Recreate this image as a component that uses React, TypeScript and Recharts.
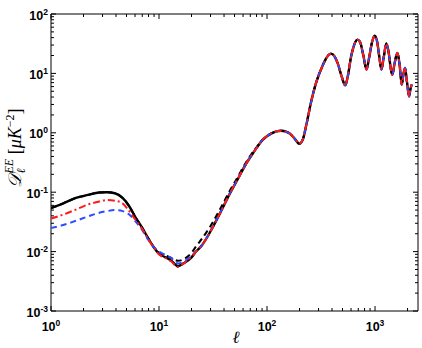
import { LineChart, Line, XAxis, YAxis, ReferenceArea } from 'recharts'

// low multipoles, where the curves differ
const ELL_LOW = [1, 1.3, 1.7, 2.2, 2.8, 3.3, 3.9, 4.6, 5.3, 6, 7, 8, 9, 10, 11.5, 13, 15, 17, 20]
const BLACK_LOW = [0.054, 0.065, 0.08, 0.09, 0.099, 0.1, 0.096, 0.08, 0.058, 0.039, 0.025, 0.0164, 0.0116, 0.0092, 0.008, 0.007, 0.0057, 0.0064, 0.008]
const DASH_LOW = [0.054, 0.065, 0.08, 0.09, 0.099, 0.1, 0.096, 0.08, 0.058, 0.039, 0.025, 0.0164, 0.0118, 0.0096, 0.0086, 0.0078, 0.007, 0.0075, 0.0095]
const RED_LOW = [0.036, 0.042, 0.051, 0.062, 0.07, 0.074, 0.072, 0.065, 0.048, 0.035, 0.024, 0.016, 0.0115, 0.009, 0.0078, 0.0068, 0.0055, 0.0064, 0.0082]
const BLUE_LOW = [0.025, 0.028, 0.033, 0.039, 0.045, 0.048, 0.05, 0.048, 0.042, 0.033, 0.023, 0.0155, 0.0118, 0.01, 0.0088, 0.0078, 0.0063, 0.0068, 0.0085]

// shared part (acoustic peaks)
const ELL_HIGH = [22, 25, 30, 38, 45, 54, 64, 77, 91, 110, 135, 160, 180, 199, 215, 230, 255, 285, 327, 360, 391, 420, 450, 490, 530, 560, 600, 640, 689, 730, 780, 833, 880, 940, 996, 1050, 1100, 1146, 1200, 1274, 1340, 1400, 1446, 1520, 1610, 1690, 1767, 1830, 1896, 1980, 2065, 2130, 2186]
const D_HIGH = [0.01, 0.0128, 0.022, 0.05, 0.093, 0.17, 0.3, 0.5, 0.76, 0.98, 1.08, 0.99, 0.8, 0.655, 0.78, 1.3, 3.2, 7, 13.5, 19, 21.5, 19.5, 15, 9, 6.3, 9, 19, 30, 37, 33, 20, 11.6, 18, 34, 43, 33, 18, 11.6, 18, 31.8, 22, 12, 9.5, 15, 22, 14, 6.5, 9.5, 12.4, 7, 4.1, 5.5, 6.5]
// black dashed runs a bit higher on the rise
const DASH_MID = [0.0122, 0.0165, 0.027, 0.058, 0.104, 0.185, 0.32, 0.52]

const X_TICKS = [1, 2, 3, 4, 5, 6, 7, 8, 9, 10, 20, 30, 40, 50, 60, 70, 80, 90, 100, 200, 300, 400, 500, 600, 700, 800, 900, 1000, 2000]
const Y_TICKS = [0.001, 0.002, 0.003, 0.004, 0.005, 0.006, 0.007, 0.008, 0.009, 0.01, 0.02, 0.03, 0.04, 0.05, 0.06, 0.07, 0.08, 0.09, 0.1, 0.2, 0.3, 0.4, 0.5, 0.6, 0.7, 0.8, 0.9, 1, 2, 3, 4, 5, 6, 7, 8, 9, 10, 20, 30, 40, 50, 60, 70, 80, 90, 100]

const LEFT = 51
const RIGHT = 418
const TOP = 14
const BOTTOM = 311

const build = (low: number[], high: number[]) =>
  [...ELL_LOW, ...ELL_HIGH].map((l, i) => ({ l, d: i < low.length ? low[i] : high[i - low.length] }))

const blackData = build(BLACK_LOW, D_HIGH)
const dashData = build(DASH_LOW, [...DASH_MID, ...D_HIGH.slice(DASH_MID.length)])
const redData = build(RED_LOW, D_HIGH)
const blueData = build(BLUE_LOW, D_HIGH)

const exp = (v: number) => Math.round(Math.log10(v))
const isMajor = (v: number) => Math.abs(Math.log10(v) - exp(v)) < 1e-6

const labelFont = { fontFamily: '"Liberation Sans", Arial, sans-serif', fontWeight: 700 }

function XTick(props: any) {
  const { x, payload } = props
  const major = isMajor(payload.value)
  const len = major ? 5 : 3
  return (
    <g>
      <line x1={x} y1={BOTTOM} x2={x} y2={BOTTOM - len} stroke="#000" />
      <line x1={x} y1={TOP} x2={x} y2={TOP + len} stroke="#000" />
      {major && (
        <text x={x} y={331} textAnchor="middle" fontSize={12.5} fill="#000" {...labelFont}>
          <tspan>10</tspan>
          <tspan dy={-5} fontSize={8.5}>{exp(payload.value)}</tspan>
        </text>
      )}
    </g>
  )
}

function YTick(props: any) {
  const { y, payload } = props
  const major = isMajor(payload.value)
  const len = major ? 5 : 3
  return (
    <g>
      <line x1={LEFT} y1={y} x2={LEFT + len} y2={y} stroke="#000" />
      <line x1={RIGHT} y1={y} x2={RIGHT - len} y2={y} stroke="#000" />
      {major && (
        <text x={48} y={y + 5.5} textAnchor="end" fontSize={12.5} fill="#000" {...labelFont}>
          <tspan>10</tspan>
          <tspan dy={-5} fontSize={8.5}>{exp(payload.value)}</tspan>
        </text>
      )}
    </g>
  )
}

export default function App() {
  return (
    <div style={{ width: 422, height: 348, background: '#fff', position: 'relative' }}>
      <style>{'body{margin:0}'}</style>
      <LineChart width={422} height={348} margin={{ top: TOP, right: 422 - RIGHT, left: 0, bottom: 0 }}>
        <XAxis
          dataKey="l"
          type="number"
          scale="log"
          domain={[1, 2500]}
          allowDataOverflow
          ticks={X_TICKS}
          interval={0}
          height={348 - BOTTOM}
          tickLine={false}
          axisLine={false}
          tick={<XTick />}
        />
        <YAxis
          dataKey="d"
          type="number"
          scale="log"
          domain={[0.001, 100]}
          allowDataOverflow
          ticks={Y_TICKS}
          interval={0}
          width={LEFT}
          tickLine={false}
          axisLine={false}
          tick={<YTick />}
        />
        <Line data={blackData} dataKey="d" type="monotone" stroke="#000" strokeWidth={2.4} dot={false} isAnimationActive={false} />
        <Line data={dashData} dataKey="d" type="monotone" stroke="#000" strokeWidth={2} strokeDasharray="6 4" dot={false} isAnimationActive={false} />
        <Line data={blueData} dataKey="d" type="monotone" stroke="#2b4cff" strokeWidth={2} strokeDasharray="6 4" dot={false} isAnimationActive={false} />
        <Line data={redData} dataKey="d" type="monotone" stroke="#ff1a1a" strokeWidth={2} strokeDasharray="7 3 2 3" dot={false} isAnimationActive={false} />
        <ReferenceArea x1={1} x2={2500} y1={0.001} y2={100} fill="none" stroke="#000" strokeWidth={1} ifOverflow="visible" />
      </LineChart>
      <svg width={422} height={348} style={{ position: 'absolute', left: 0, top: 0, pointerEvents: 'none' }}>
        <text
          transform="translate(21,148) rotate(-90)"
          textAnchor="middle"
          fontFamily='"Liberation Serif", "DejaVu Serif", serif'
          fontSize={18}
          fill="#000"
        >
          <tspan fontFamily='"DejaVu Serif", serif' fontStyle="italic">𝒟</tspan>
          <tspan dy={4} fontSize={12} fontStyle="italic">ℓ</tspan>
          <tspan dx={-5} dy={-12} fontSize={12} fontStyle="italic">EE</tspan>
          <tspan dy={8}> [</tspan>
          <tspan fontStyle="italic">μK</tspan>
          <tspan dy={-7} fontSize={12}>−2</tspan>
          <tspan dy={7}>]</tspan>
        </text>
        <text x={236} y={343} textAnchor="middle" fontFamily='"Liberation Serif", serif' fontStyle="italic" fontSize={17} fill="#000">ℓ</text>
      </svg>
    </div>
  )
}
